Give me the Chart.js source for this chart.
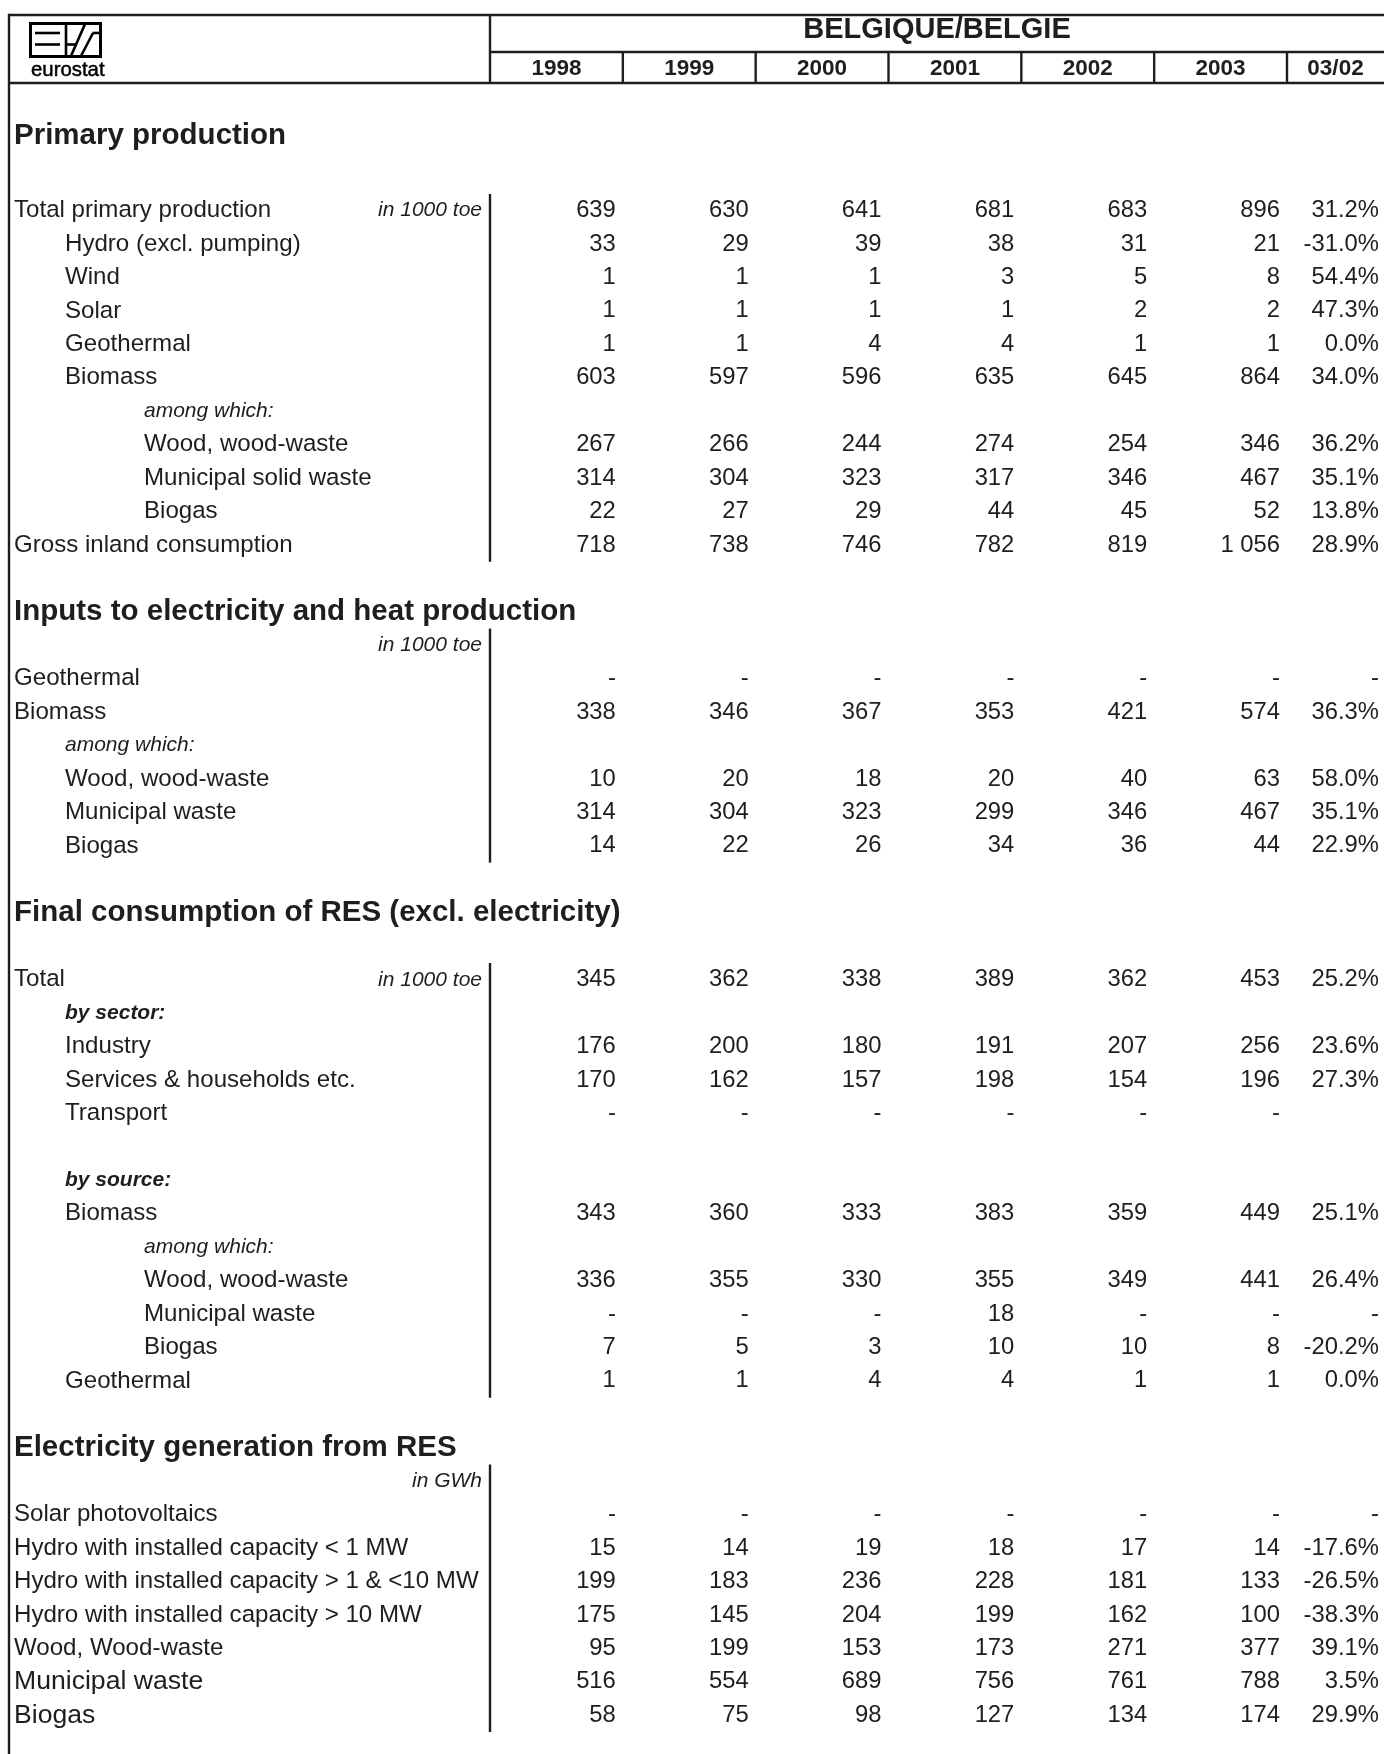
<!DOCTYPE html>
<html>
<head>
<meta charset="utf-8">
<script src="https://cdn.jsdelivr.net/npm/chart.js@4.4.1/dist/chart.umd.min.js"></script>
<style>
  html, body { margin: 0; padding: 0; background: #fff; }
  canvas { display: block; }
</style>
</head>
<body>
<canvas id="c" width="1384" height="1754" style="width:1384px;height:1754px"></canvas>
<script>
// ---------- DATA ----------
const country = 'BELGIQUE/BELGIE';
const years = ['1998', '1999', '2000', '2001', '2002', '2003'];
const changeLabel = '03/02';

// kind: 'h' section heading, 'b' blank, 'u' unit-only row, 'r' data row, 'n' note (italic), 'nb' bold-italic note, 'R' data row (larger text)
const rowLabels = [
  'Primary production', '',
  'Total primary production', 'Hydro (excl. pumping)', 'Wind', 'Solar', 'Geothermal', 'Biomass',
  'among which:', 'Wood, wood-waste', 'Municipal solid waste', 'Biogas', 'Gross inland consumption', '',
  'Inputs to electricity and heat production', '',
  'Geothermal', 'Biomass', 'among which:', 'Wood, wood-waste', 'Municipal waste', 'Biogas', '',
  'Final consumption of RES (excl. electricity)', '',
  'Total', 'by sector:', 'Industry', 'Services & households etc.', 'Transport', '',
  'by source:', 'Biomass', 'among which:', 'Wood, wood-waste', 'Municipal waste', 'Biogas', 'Geothermal', '',
  'Electricity generation from RES', '',
  'Solar photovoltaics', 'Hydro with installed capacity < 1 MW', 'Hydro with installed capacity > 1 & <10 MW',
  'Hydro with installed capacity > 10 MW', 'Wood, Wood-waste', 'Municipal waste', 'Biogas'
];
const rowKinds = [
  'h', 'b',
  'r', 'r', 'r', 'r', 'r', 'r',
  'n', 'r', 'r', 'r', 'r', 'b',
  'h', 'u',
  'r', 'r', 'n', 'r', 'r', 'r', 'b',
  'h', 'b',
  'r', 'nb', 'r', 'r', 'r', 'b',
  'nb', 'r', 'n', 'r', 'r', 'r', 'r', 'b',
  'h', 'u',
  'r', 'r', 'r', 'r', 'r', 'R', 'R'
];
const rowLevels = [
  0, 0,
  0, 1, 1, 1, 1, 1,
  2, 2, 2, 2, 0, 0,
  0, 0,
  0, 0, 1, 1, 1, 1, 0,
  0, 0,
  0, 1, 1, 1, 1, 0,
  1, 1, 2, 2, 2, 2, 1, 0,
  0, 0,
  0, 0, 0, 0, 0, 0, 0
];
const rowUnits = {2: 'in 1000 toe', 15: 'in 1000 toe', 25: 'in 1000 toe', 40: 'in GWh'};
// rows framed by the separator line: [firstRow, lastRow]
const groups = [[2, 12], [15, 21], [25, 37], [40, 47]];

const _ = undefined; // no value in this row
const D = null;      // shown as "-"
const v1998 = [_, _, 639, 33, 1, 1, 1, 603, _, 267, 314, 22, 718, _, _, _, D, 338, _, 10, 314, 14, _, _, _, 345, _, 176, 170, D, _, _, 343, _, 336, D, 7, 1, _, _, _, D, 15, 199, 175, 95, 516, 58];
const v1999 = [_, _, 630, 29, 1, 1, 1, 597, _, 266, 304, 27, 738, _, _, _, D, 346, _, 20, 304, 22, _, _, _, 362, _, 200, 162, D, _, _, 360, _, 355, D, 5, 1, _, _, _, D, 14, 183, 145, 199, 554, 75];
const v2000 = [_, _, 641, 39, 1, 1, 4, 596, _, 244, 323, 29, 746, _, _, _, D, 367, _, 18, 323, 26, _, _, _, 338, _, 180, 157, D, _, _, 333, _, 330, D, 3, 4, _, _, _, D, 19, 236, 204, 153, 689, 98];
const v2001 = [_, _, 681, 38, 3, 1, 4, 635, _, 274, 317, 44, 782, _, _, _, D, 353, _, 20, 299, 34, _, _, _, 389, _, 191, 198, D, _, _, 383, _, 355, 18, 10, 4, _, _, _, D, 18, 228, 199, 173, 756, 127];
const v2002 = [_, _, 683, 31, 5, 2, 1, 645, _, 254, 346, 45, 819, _, _, _, D, 421, _, 40, 346, 36, _, _, _, 362, _, 207, 154, D, _, _, 359, _, 349, D, 10, 1, _, _, _, D, 17, 181, 162, 271, 761, 134];
const v2003 = [_, _, 896, 21, 8, 2, 1, 864, _, 346, 467, 52, 1056, _, _, _, D, 574, _, 63, 467, 44, _, _, _, 453, _, 256, 196, D, _, _, 449, _, 441, D, 8, 1, _, _, _, D, 14, 133, 100, 377, 788, 174];
const change0302 = [_, _, 31.2, -31.0, 54.4, 47.3, 0.0, 34.0, _, 36.2, 35.1, 13.8, 28.9, _, _, _, D, 36.3, _, 58.0, 35.1, 22.9, _, _, _, 25.2, _, 23.6, 27.3, _, _, _, 25.1, _, 26.4, D, -20.2, 0.0, _, _, _, D, -17.6, -26.5, -38.3, 39.1, 3.5, 29.9];
const yearValues = [v1998, v1999, v2000, v2001, v2002, v2003];

// ---------- RENDERING ----------
const FONT = '"Liberation Sans", Arial, Helvetica, sans-serif';
const INK = '#1e1e1e';

function fmtNum(v) {
  if (v === null) return '-';
  return String(v).replace(/\B(?=(\d{3})+(?!\d))/g, ' ');
}
function fmtPct(v) {
  if (v === null) return '-';
  return v.toFixed(1) + '%';
}

function line(ctx, x1, y1, x2, y2, w) {
  ctx.beginPath();
  ctx.lineWidth = w;
  ctx.moveTo(x1, y1);
  ctx.lineTo(x2, y2);
  ctx.stroke();
}

function drawLogo(ctx) {
  ctx.save();
  ctx.strokeStyle = '#000';
  ctx.fillStyle = '#000';
  ctx.lineCap = 'butt';
  ctx.lineWidth = 3;
  ctx.strokeRect(30.5, 23.5, 70, 33);
  // E bars
  line(ctx, 35, 33, 60, 33, 2.6);
  line(ctx, 35, 44.5, 60, 44.5, 2.6);
  // vertical
  line(ctx, 66, 23, 66, 57, 2.6);
  // slash with foot
  line(ctx, 66, 44.5, 76, 44.5, 2.6);
  line(ctx, 71, 56, 85, 24, 2.6);
  // second slash with head
  line(ctx, 81, 56, 93, 33, 2.6);
  line(ctx, 92.5, 33, 100, 33, 2.6);
  ctx.font = '21px ' + FONT;
  ctx.textAlign = 'left';
  ctx.textBaseline = 'alphabetic';
  ctx.save();
  ctx.translate(31, 76);
  ctx.scale(0.97, 1);
  ctx.lineWidth = 0.5;
  ctx.fillText('eurostat', 0, 0);
  ctx.strokeText('eurostat', 0, 0);
  ctx.restore();
  ctx.restore();
}

const tablePlugin = {
  id: 'tablePlugin',
  beforeDraw(chart) {
    const ctx = chart.ctx;
    ctx.save();
    ctx.fillStyle = '#fff';
    ctx.fillRect(0, 0, chart.width, chart.height);
    ctx.restore();
  },
  afterDraw(chart) {
    const ctx = chart.ctx;
    const xs = chart.scales.x;
    const ys = chart.scales.y;
    const area = chart.chartArea;
    const W = chart.width;
    const colW = xs.getPixelForValue(1) - xs.getPixelForValue(0);
    const rowH = ys.getPixelForValue(1) - ys.getPixelForValue(0);
    const leftX = 9;
    const topY = 15;
    const hdrMid = 52;
    const hdrBot = 83;
    const pctRight = W - 5;
    const pctCenter = (area.right + W) / 2;
    const LW = 2.4;

    ctx.save();
    ctx.strokeStyle = INK;
    ctx.fillStyle = INK;

    // frame
    line(ctx, leftX, topY, W, topY, LW);
    line(ctx, leftX, topY - LW / 2, leftX, chart.height, LW);
    line(ctx, area.left, topY, area.left, hdrBot, LW);
    line(ctx, area.left, hdrMid, W, hdrMid, LW);
    line(ctx, leftX, hdrBot, W, hdrBot, LW);
    for (let j = 1; j <= years.length; j++) {
      const xe = xs.getPixelForValue(j - 1) + colW / 2;
      line(ctx, xe, hdrMid, xe, hdrBot, LW);
    }

    // header texts
    ctx.textBaseline = 'middle';
    ctx.textAlign = 'center';
    ctx.font = 'bold 29px ' + FONT;
    ctx.fillText(country, (area.left + W) / 2, 30);
    ctx.font = 'bold 22.5px ' + FONT;
    years.forEach((y, j) => ctx.fillText(y, xs.getPixelForValue(j), 69));
    ctx.fillText(changeLabel, pctCenter, 69);

    drawLogo(ctx);

    // separator segments
    ctx.strokeStyle = INK;
    groups.forEach(([a, b]) => {
      const y1 = ys.getPixelForValue(a) - rowH / 2;
      const y2 = ys.getPixelForValue(b) + rowH / 2;
      line(ctx, area.left, y1, area.left, y2, LW);
    });

    // rows
    const indent = [14, 65, 144];
    rowLabels.forEach((label, i) => {
      const kind = rowKinds[i];
      const y = ys.getPixelForValue(i);
      ctx.textAlign = 'left';
      ctx.fillStyle = INK;
      if (kind === 'h') {
        ctx.font = 'bold 29.5px ' + FONT;
        ctx.fillText(label, 14, i === 0 ? y - 8 : y);
      } else if (kind === 'n') {
        ctx.font = 'italic 21px ' + FONT;
        ctx.fillText(label, indent[rowLevels[i]], y);
      } else if (kind === 'nb') {
        ctx.font = 'italic bold 21px ' + FONT;
        ctx.fillText(label, indent[rowLevels[i]], y);
      } else if (kind === 'r' || kind === 'R') {
        ctx.font = (kind === 'R' ? '26.6px ' : '24.1px ') + FONT;
        ctx.fillText(label, indent[rowLevels[i]], y);
      }
      if (rowUnits[i]) {
        ctx.textAlign = 'right';
        ctx.font = 'italic 21px ' + FONT;
        ctx.fillText(rowUnits[i], 482, y);
      }
      if (kind === 'r' || kind === 'R') {
        ctx.textAlign = 'right';
        ctx.font = '23.8px ' + FONT;
        yearValues.forEach((arr, j) => {
          const v = arr[i];
          if (v === undefined) return;
          ctx.fillText(fmtNum(v), xs.getPixelForValue(j) + colW / 2 - 7, y);
        });
        const p = change0302[i];
        if (p !== undefined) ctx.fillText(fmtPct(p), pctRight, y);
      }
    });
    ctx.restore();
  }
};

new Chart(document.getElementById('c'), {
  type: 'line',
  data: { labels: years, datasets: [] },
  options: {
    responsive: false,
    animation: false,
    events: [],
    layout: { padding: { left: 490, right: 97, top: 127, bottom: 22 } },
    plugins: { legend: { display: false }, tooltip: { enabled: false }, title: { display: false } },
    scales: {
      x: { type: 'category', labels: years, offset: true, display: false, grid: { display: false } },
      y: { type: 'category', labels: rowLabels.map((l, i) => i + ':' + l), offset: true, display: false, grid: { display: false } }
    }
  },
  plugins: [tablePlugin]
});
</script>
</body>
</html>
